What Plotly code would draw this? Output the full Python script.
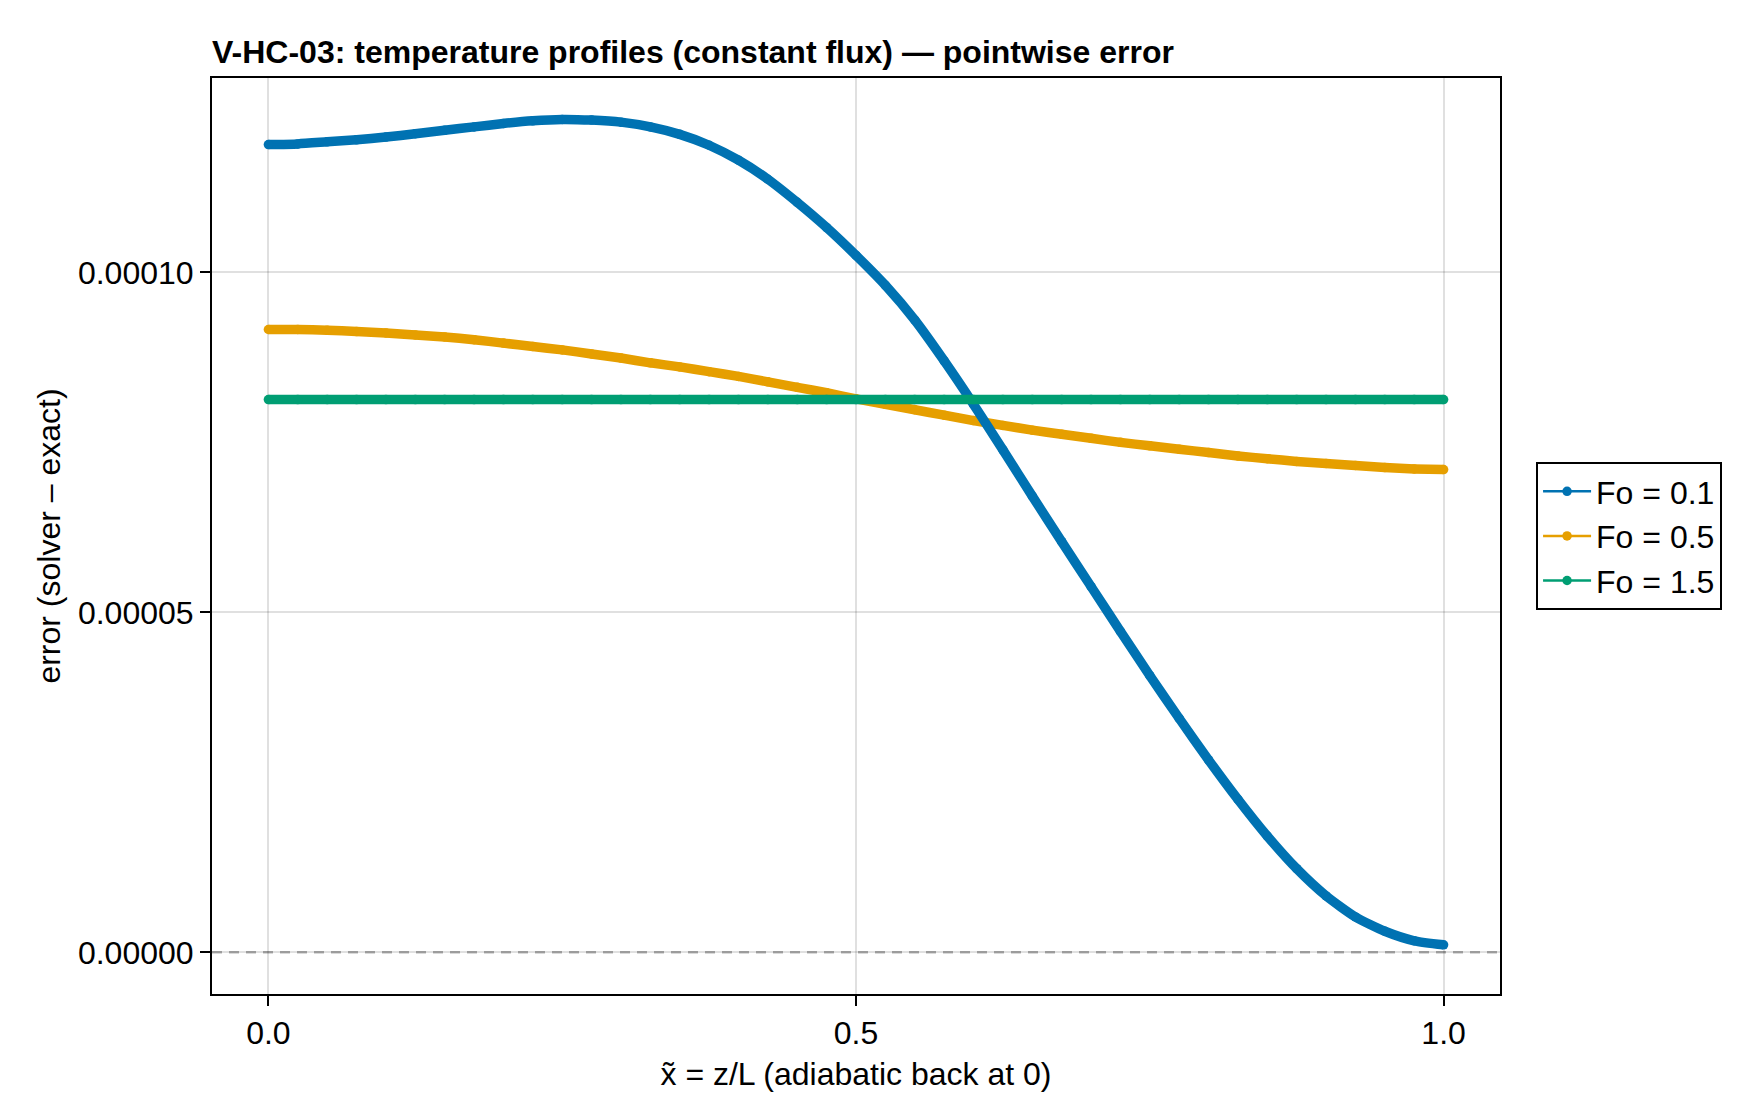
import plotly.graph_objects as go

# ---- data ----
x_nodes = [0.0, 0.025, 0.05, 0.075, 0.1, 0.125, 0.15, 0.175, 0.2, 0.225,
           0.25, 0.275, 0.3, 0.325, 0.35, 0.375, 0.4, 0.425, 0.45, 0.475,
           0.5, 0.525, 0.55, 0.575, 0.6, 0.625, 0.65, 0.675, 0.7, 0.725,
           0.75, 0.775, 0.8, 0.825, 0.85, 0.875, 0.9, 0.925, 0.95, 0.975, 1.0]

err_fo_01 = [11.88e-5, 11.89e-5, 11.92e-5, 11.95e-5, 11.99e-5, 12.04e-5, 12.09e-5, 12.14e-5, 12.19e-5, 12.23e-5,
             12.25e-5, 12.24e-5, 12.21e-5, 12.14e-5, 12.03e-5, 11.87e-5, 11.65e-5, 11.37e-5, 11.03e-5, 10.66e-5,
             10.25e-5, 9.81e-5, 9.30e-5, 8.70e-5, 8.06e-5, 7.39e-5, 6.71e-5, 6.04e-5, 5.38e-5, 4.72e-5,
             4.07e-5, 3.44e-5, 2.83e-5, 2.25e-5, 1.71e-5, 1.23e-5, 0.83e-5, 0.52e-5, 0.31e-5, 0.17e-5, 0.11e-5]

err_fo_05 = [9.16e-5, 9.16e-5, 9.15e-5, 9.13e-5, 9.11e-5, 9.08e-5, 9.05e-5, 9.01e-5, 8.96e-5, 8.91e-5,
             8.86e-5, 8.80e-5, 8.74e-5, 8.67e-5, 8.61e-5, 8.54e-5, 8.47e-5, 8.39e-5, 8.31e-5, 8.23e-5,
             8.14e-5, 8.06e-5, 7.98e-5, 7.90e-5, 7.82e-5, 7.75e-5, 7.68e-5, 7.62e-5, 7.56e-5, 7.50e-5,
             7.45e-5, 7.40e-5, 7.35e-5, 7.30e-5, 7.26e-5, 7.22e-5, 7.19e-5, 7.16e-5, 7.13e-5, 7.11e-5, 7.10e-5]

err_fo_15 = [8.13e-5] * len(x_nodes)

series_names = ["Fo = 0.1", "Fo = 0.5", "Fo = 1.5"]
series_colors = ["#0072B2", "#E69F00", "#009E73"]

y_tick_vals = [0.0, 0.00005, 0.0001]
x_tick_vals = [0.0, 0.5, 1.0]

FONT = "Liberation Sans, Arial, sans-serif"

fig = go.Figure()

series = {
    0: err_fo_01,
    1: err_fo_05,
    2: err_fo_15,
}
draw_order = [1, 0, 2]
for i in draw_order:
    ys = series[i]
    # thick body (dense markers in the original)
    fig.add_trace(go.Scatter(
        x=x_nodes, y=ys, mode="lines",
        line=dict(color=series_colors[i], width=9.5, shape="spline", smoothing=0.6),
        showlegend=False, hoverinfo="skip", legendgroup=series_names[i],
    ))
    fig.add_trace(go.Scatter(
        x=x_nodes, y=ys, mode="lines+markers", name=series_names[i],
        line=dict(color=series_colors[i], width=2.5, shape="spline", smoothing=0.6),
        marker=dict(color=series_colors[i], size=9.5),
        legendgroup=series_names[i], legendrank=i + 1,
    ))

fig.add_shape(type="line", xref="paper", x0=0, x1=1, yref="y", y0=0, y1=0,
              line=dict(color="rgba(0,0,0,0.30)", width=2.5, dash="10px,7px"),
              layer="below")

axis_common = dict(
    showline=True, mirror=True, linecolor="black", linewidth=2,
    ticks="outside", ticklen=10, tickwidth=2, tickcolor="black",
    showgrid=True, gridcolor="rgba(0,0,0,0.12)", gridwidth=1.5,
    zeroline=False,
    tickfont=dict(family=FONT, size=32, color="black"),
)

fig.update_layout(
    width=1760, height=1120, autosize=False,
    paper_bgcolor="white", plot_bgcolor="white",
    margin=dict(l=212, r=260, t=78, b=126, pad=0),
    title=dict(
        text="<b>V-HC-03: temperature profiles (constant flux) — pointwise error</b>",
        font=dict(family=FONT, size=32, color="black"),
        x=212 / 1760, xanchor="left", xref="container",
        y=1 - 52 / 1120, yanchor="middle", yref="container",
    ),
    xaxis=dict(
        **axis_common,
        range=[-0.048, 1.048], tickvals=x_tick_vals, tickformat=".1f",
        title=dict(text="x\u0303 = z/L (adiabatic back at 0)",
                   font=dict(family=FONT, size=32, color="black"), standoff=12),
    ),
    yaxis=dict(
        **axis_common,
        range=[-0.613e-5, 1.2859e-4], tickvals=y_tick_vals, tickformat=".5f",
        title=dict(text="error (solver – exact)",
                   font=dict(family=FONT, size=32, color="black"), standoff=8),
    ),
    legend=dict(
        x=1.028, xanchor="left", y=0.5, yanchor="middle",
        bordercolor="black", borderwidth=2, bgcolor="white",
        font=dict(family=FONT, size=32, color="black"),
        tracegroupgap=0, itemwidth=48,
    ),
)

fig.write_html("out.html")
